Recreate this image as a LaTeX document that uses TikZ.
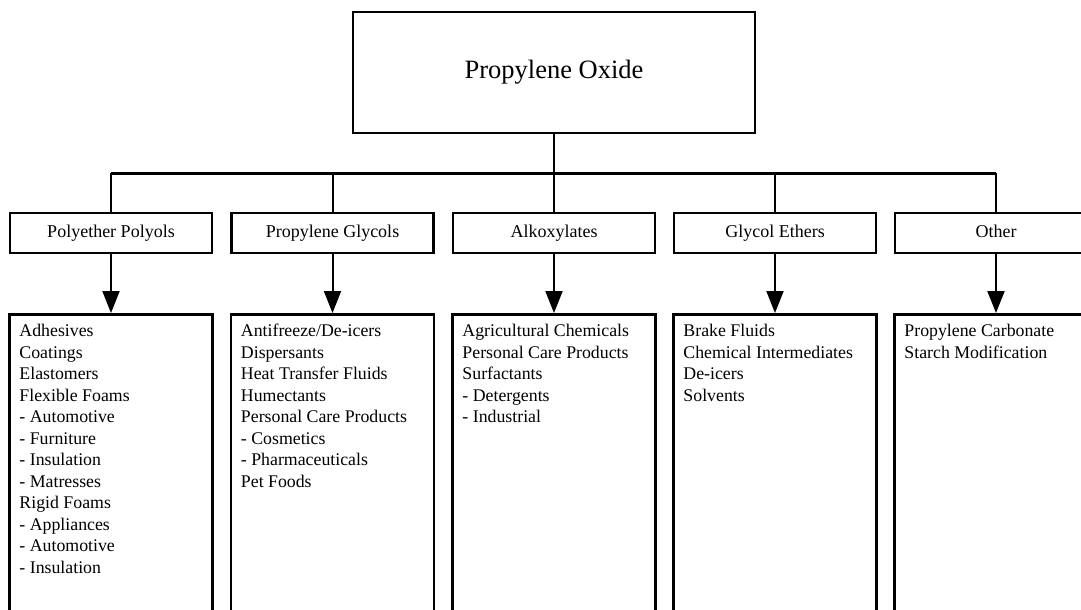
\documentclass[tikz,border=0pt]{standalone}
\usepackage{fontspec}
\setmainfont{Liberation Serif}
\usetikzlibrary{arrows.meta,positioning}

\begin{document}
\begin{tikzpicture}[x=1pt,y=-1pt,
  box/.style={draw,line width=2.5pt,inner sep=0pt},
  catbox/.style={box,minimum width=202pt,minimum height=40pt,text height=12pt,text depth=4pt,font=\fontsize{18}{20}\selectfont},
  usebox/.style={box,minimum width=203pt,minimum height=330pt,anchor=north},
  uselist/.style={anchor=north west,inner sep=0pt,align=left,font=\fontsize{17.8}{21.5}\selectfont},
  link/.style={line width=2pt},
  feed/.style={line width=2pt,-{Triangle[length=22pt,width=17pt]}}]
  \useasboundingbox (0,0) rectangle (1081,610);
  \clip (0,0) rectangle (1081,610);

  % Top level
  \node[box,minimum width=402pt,minimum height=121pt,font=\fontsize{26.5}{30}\selectfont] (po) at (554,72.5) {Propylene Oxide};

  % Product groups
  \node[catbox] (c1) at (111,233) {Polyether Polyols};
  \node[catbox] (c2) at (332.5,233) {Propylene Glycols};
  \node[catbox] (c3) at (554,233) {Alkoxylates};
  \node[catbox] (c4) at (775,233) {Glycol Ethers};
  \node[catbox] (c5) at (996,233) {Other};

  % Tree
  \coordinate (bus) at (554,173);
  \draw[link] (po.south) -- (c3.north);
  \draw[link,line width=3pt] (c1.north |- bus) -- (c5.north |- bus);
  \foreach \c in {c1,c2,c4,c5}
    \draw[link] (\c.north |- bus) -- (\c.north);

  % End uses
  \node[usebox] (u1) at (111,313) {};
  \node[usebox] (u2) at (332.5,313) {};
  \node[usebox] (u3) at (554,313) {};
  \node[usebox] (u4) at (775,313) {};
  \node[usebox] (u5) at (996,313) {};
  \foreach \i in {1,...,5}
    \draw[feed] (c\i.south) -- (u\i.north);

  \node[uselist] (l1) at ([shift={(11,11)}]u1.north west) {Adhesives\\Coatings\\Elastomers\\Flexible Foams\\- Automotive\\- Furniture\\- Insulation\\- Matresses\\Rigid Foams\\- Appliances\\- Automotive\\- Insulation};
  \node[uselist] (l2) at ([shift={(11,11)}]u2.north west) {Antifreeze/De-icers\\Dispersants\\Heat Transfer Fluids\\Humectants\\Personal Care Products\\- Cosmetics\\- Pharmaceuticals\\Pet Foods};
  \node[uselist] (l3) at ([shift={(11,11)}]u3.north west) {Agricultural Chemicals\\Personal Care Products\\Surfactants\\- Detergents\\- Industrial};
  \node[uselist] (l4) at ([shift={(11,11)}]u4.north west) {Brake Fluids\\Chemical Intermediates\\De-icers\\Solvents};
  \node[uselist] (l5) at ([shift={(11,11)}]u5.north west) {Propylene Carbonate\\Starch Modification};
\end{tikzpicture}
\end{document}
